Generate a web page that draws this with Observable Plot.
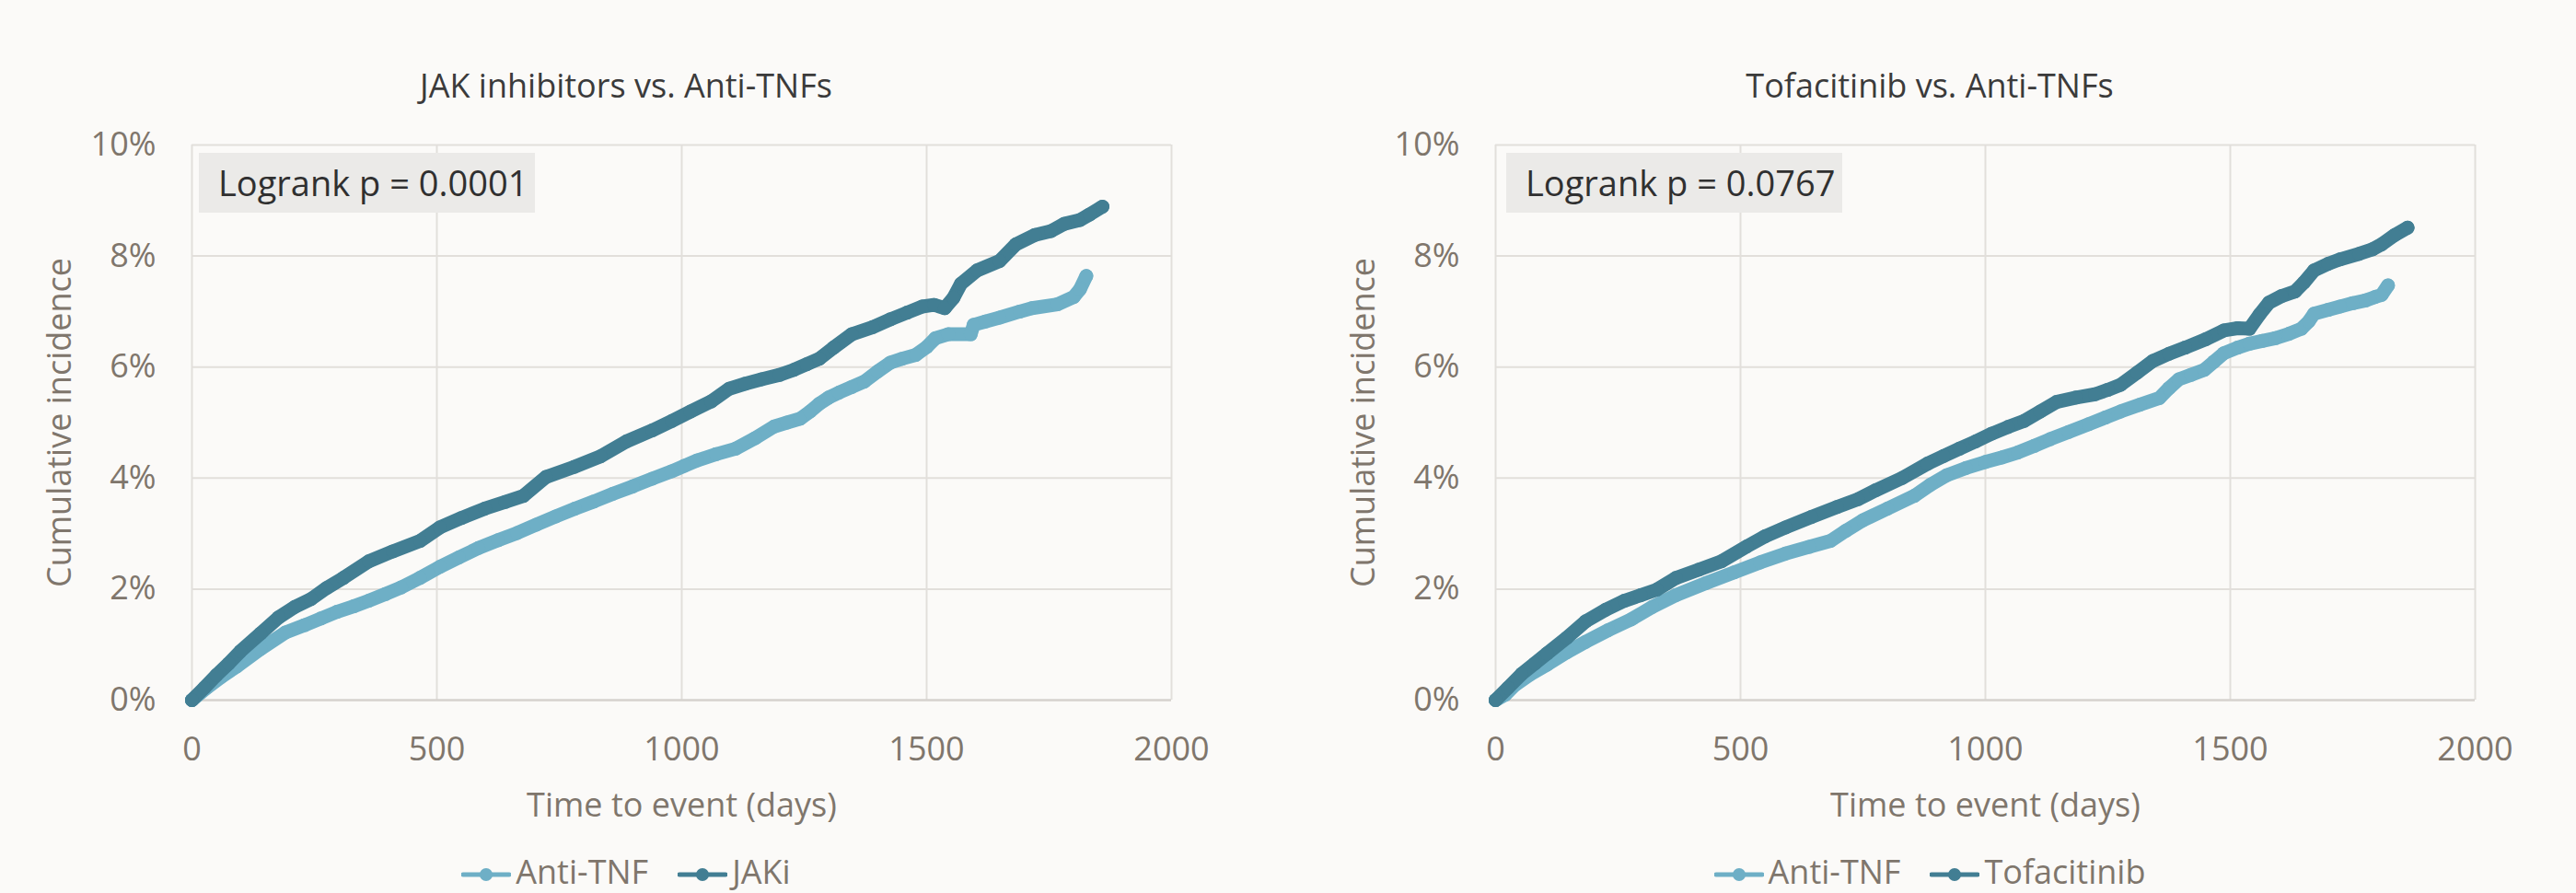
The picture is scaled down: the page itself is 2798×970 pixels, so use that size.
<!DOCTYPE html>
<html>
<head>
<meta charset="utf-8">
<script src="https://cdn.jsdelivr.net/npm/d3@7"></script>
<script src="https://cdn.jsdelivr.net/npm/@observablehq/plot@0.6"></script>
<style>
  html, body { margin: 0; padding: 0; }
  body { width: 2798px; height: 970px; overflow: hidden; background: #fbfaf8; font-family: "Open Sans", sans-serif; position: relative; }
  .panel { position: absolute; top: 0; width: 1360px; height: 970px; }
  .title { position: absolute; left: 0; top: 75px; width: 1360px; text-align: center; font-size: 36px; line-height: 36px; color: #3b3b3b; }
  .pbox { position: absolute; top: 166px; width: 365px; height: 65px; background: #ebeae8; color: #303030; font-size: 38px; line-height: 65px; box-sizing: border-box; padding-left: 21px; white-space: nowrap; }
  .legend { position: absolute; left: 0; top: 929px; width: 1360px; display: flex; justify-content: center; font-size: 36px; line-height: 36px; color: #7f766c; }
  .item { display: inline-flex; align-items: center; margin: 0 16px; }
  .item svg { margin-right: 5px; position: relative; top: 3px; }
</style>
</head>
<body>
<script>
// ---------- data ----------
const xTicks = [0, 500, 1000, 1500, 2000];
const yTicks = [0, 2, 4, 6, 8, 10];
const panelTitles = ["JAK inhibitors vs. Anti-TNFs", "Tofacitinib vs. Anti-TNFs"];
const seriesNamesLeft = ["Anti-TNF", "JAKi"];
const seriesNamesRight = ["Anti-TNF", "Tofacitinib"];
const pValues = ["0.0001", "0.0767"];
const seriesColors = ["#6eafc6", "#427e93"];

// Left panel: Anti-TNF
const antiTnfLeftDays = [0,30,60,92,140,191,230,263,296,330,361,395,427,465,506,545,585,625,664,703,743,782,821,860,900,940,979,1005,1032,1070,1110,1150,1189,1215,1242,1262,1281,1300,1321,1347,1373,1400,1426,1450,1478,1500,1518,1544,1590,1596,1620,1649,1690,1715,1767,1800,1813,1826];
const antiTnfLeftPct  = [0,0.22,0.42,0.61,0.92,1.22,1.35,1.47,1.59,1.69,1.79,1.91,2.03,2.20,2.40,2.57,2.74,2.88,3.01,3.16,3.31,3.45,3.58,3.72,3.85,3.99,4.12,4.22,4.32,4.43,4.53,4.72,4.93,5.00,5.07,5.20,5.34,5.45,5.54,5.64,5.74,5.92,6.08,6.15,6.22,6.36,6.52,6.59,6.59,6.76,6.82,6.89,7.00,7.06,7.13,7.26,7.40,7.64];
// Left panel: JAKi
const jakiDays = [0,25,50,75,99,140,177,210,243,275,309,361,410,466,506,550,598,640,677,723,780,834,887,940,980,1018,1060,1097,1130,1163,1200,1229,1255,1281,1310,1347,1390,1426,1460,1491,1515,1537,1555,1570,1603,1649,1682,1721,1754,1781,1813,1833,1859];
const jakiPct  = [0,0.22,0.45,0.66,0.88,1.20,1.49,1.68,1.82,2.02,2.20,2.50,2.68,2.87,3.11,3.28,3.45,3.57,3.68,4.02,4.20,4.39,4.66,4.86,5.03,5.20,5.38,5.61,5.70,5.78,5.86,5.95,6.05,6.15,6.35,6.59,6.72,6.86,6.98,7.09,7.12,7.06,7.25,7.50,7.74,7.91,8.21,8.38,8.45,8.58,8.65,8.75,8.89];
// Right panel: Anti-TNF
const antiTnfRightDays = [0,20,39,70,105,145,184,230,276,320,368,430,487,540,592,640,684,715,750,800,855,888,921,960,1000,1033,1066,1100,1132,1170,1211,1245,1276,1315,1355,1375,1395,1420,1447,1467,1487,1515,1539,1565,1592,1620,1645,1660,1671,1700,1724,1750,1776,1795,1809,1822];
const antiTnfRightPct  = [0,0.10,0.27,0.46,0.64,0.86,1.05,1.26,1.45,1.68,1.89,2.11,2.30,2.48,2.64,2.76,2.87,3.05,3.24,3.45,3.68,3.88,4.05,4.18,4.29,4.37,4.46,4.58,4.70,4.83,4.97,5.09,5.20,5.32,5.44,5.62,5.78,5.86,5.95,6.10,6.25,6.35,6.42,6.47,6.52,6.60,6.69,6.82,6.96,7.03,7.09,7.15,7.20,7.26,7.30,7.47];
// Right panel: Tofacitinib
const tofaDays = [0,25,53,80,105,145,184,225,263,296,329,368,415,461,513,550,592,645,697,740,776,830,882,915,947,980,1013,1046,1079,1112,1145,1185,1224,1250,1276,1310,1342,1375,1408,1450,1487,1515,1539,1560,1579,1605,1632,1650,1671,1700,1724,1763,1790,1809,1836,1862];
const tofaPct  = [0,0.22,0.47,0.66,0.84,1.12,1.42,1.63,1.79,1.89,1.99,2.20,2.35,2.50,2.77,2.95,3.11,3.30,3.48,3.62,3.78,4.00,4.26,4.40,4.53,4.66,4.80,4.92,5.03,5.20,5.37,5.45,5.51,5.59,5.68,5.90,6.11,6.24,6.35,6.50,6.66,6.70,6.69,6.95,7.16,7.28,7.36,7.52,7.74,7.86,7.94,8.04,8.12,8.21,8.38,8.51];

// ---------- build ----------
function rowsOf(name, days, pct) {
  return days.map((d, i) => ({series: name, days: d, pct: pct[i]}));
}

function makePanel(left, title, names, seriesA, seriesB, pval, boxLeft) {
  const panel = document.createElement("div");
  panel.className = "panel";
  panel.style.left = left + "px";

  const t = document.createElement("div");
  t.className = "title";
  t.textContent = title;
  panel.appendChild(t);

  const rowsA = rowsOf(names[0], seriesA[0], seriesA[1]);
  const rowsB = rowsOf(names[1], seriesB[0], seriesB[1]);

  const chart = Plot.plot({
    width: 1360,
    height: 770,
    marginLeft: 208,
    marginRight: 88,
    marginTop: 27,
    marginBottom: 140,
    style: {background: "transparent", fontFamily: "'Open Sans', sans-serif", fontSize: "36px", color: "#7f766c", overflow: "visible"},
    x: {domain: [0, 2000], ticks: xTicks, tickFormat: d => String(d), tickSize: 0, tickPadding: 40, label: "Time to event (days)", labelAnchor: "center", labelArrow: "none", labelOffset: 126},
    y: {domain: [0, 10], ticks: yTicks, tickFormat: d => d + "%", tickSize: 0, tickPadding: 39, label: "Cumulative incidence", labelAnchor: "center", labelArrow: "none", labelOffset: 157},
    color: {domain: names, range: seriesColors},
    marks: [
      Plot.ruleX(xTicks, {x: d => d, stroke: "#e2dfdb", strokeWidth: 2}),
      Plot.ruleY(yTicks.filter(d => d > 0), {y: d => d, stroke: "#e2dfdb", strokeWidth: 2}),
      Plot.ruleY([0], {y: d => d, stroke: "#d6d2ce", strokeWidth: 2.5}),
      Plot.line(rowsA, {x: "days", y: "pct", stroke: "series", strokeWidth: 15, strokeLinejoin: "round", strokeLinecap: "round"}),
      Plot.dot(rowsA, {x: "days", y: "pct", fill: "series", r: 7.5, stroke: "none"}),
      Plot.line(rowsB, {x: "days", y: "pct", stroke: "series", strokeWidth: 15, strokeLinejoin: "round", strokeLinecap: "round"}),
      Plot.dot(rowsB, {x: "days", y: "pct", fill: "series", r: 7.5, stroke: "none"})
    ]
  });
  // remove any residual axis-label arrows
  chart.querySelectorAll("text, tspan").forEach(el => {
    if (el.childNodes.length === 1 && el.firstChild.nodeType === 3) {
      el.textContent = el.textContent.replace(/\s*[↑→↓←]\s*/g, "").trim();
    }
  });
  chart.style.position = "absolute";
  chart.style.left = "0px";
  chart.style.top = "130px";
  panel.appendChild(chart);

  const box = document.createElement("div");
  box.className = "pbox";
  box.style.left = boxLeft + "px";
  box.textContent = "Logrank p = " + pval;
  panel.appendChild(box);

  const legend = document.createElement("div");
  legend.className = "legend";
  names.forEach((n, i) => {
    const item = document.createElement("span");
    item.className = "item";
    const c = seriesColors[i];
    item.innerHTML = `<svg width="54" height="16" viewBox="0 0 54 16"><line x1="2" y1="8" x2="52" y2="8" stroke="${c}" stroke-width="5" stroke-linecap="round"/><circle cx="27" cy="8" r="7" fill="${c}"/></svg>`;
    const label = document.createElement("span");
    label.textContent = n;
    item.appendChild(label);
    legend.appendChild(item);
  });
  panel.appendChild(legend);

  document.body.appendChild(panel);
}

makePanel(0, panelTitles[0], seriesNamesLeft, [antiTnfLeftDays, antiTnfLeftPct], [jakiDays, jakiPct], pValues[0], 216);
makePanel(1416, panelTitles[1], seriesNamesRight, [antiTnfRightDays, antiTnfRightPct], [tofaDays, tofaPct], pValues[1], 220);
</script>
</body>
</html>
